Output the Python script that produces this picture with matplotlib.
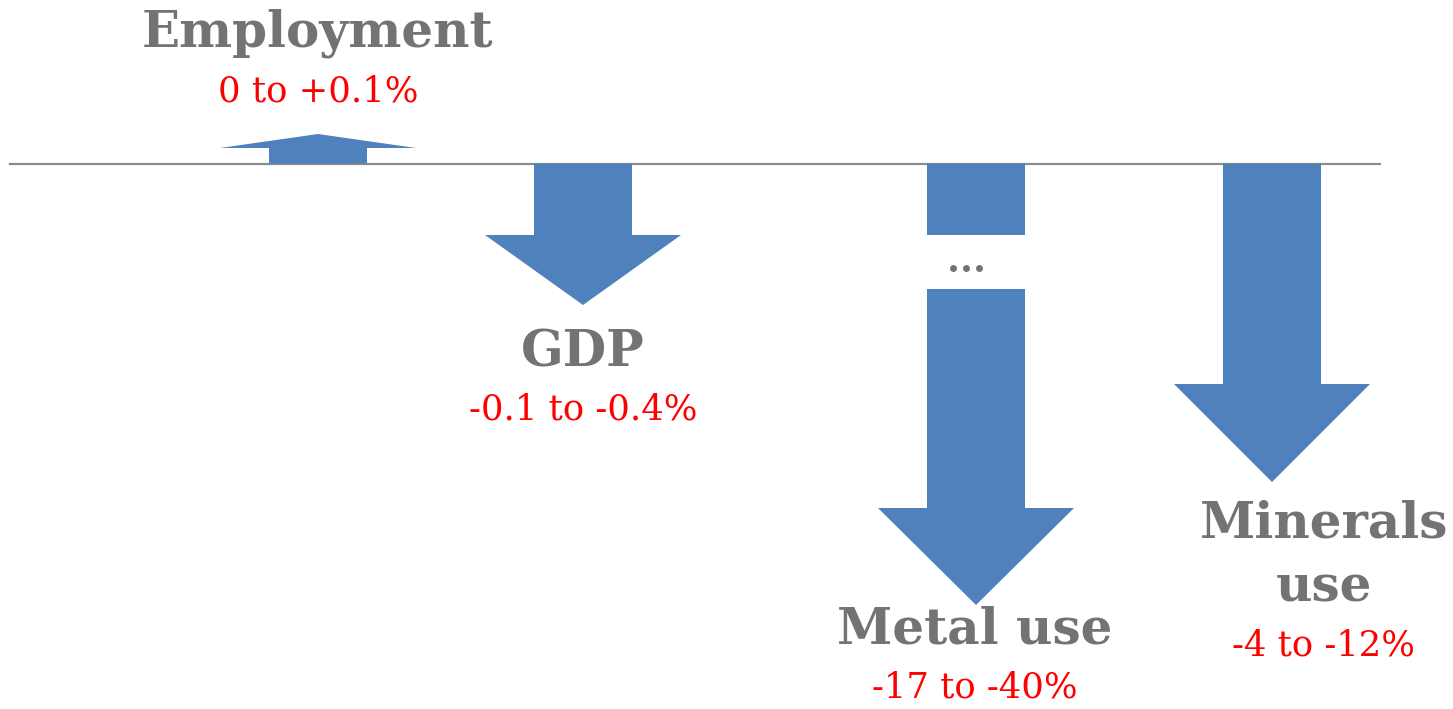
import matplotlib.pyplot as plt
from matplotlib.patches import Polygon, Rectangle

# scenario results: indicator, change range, direction of the change
indicators = ['Employment', 'GDP', 'Metal use', 'Minerals\nuse']
ranges = ['0 to +0.1%', '-0.1 to -0.4%', '-17 to -40%', '-4 to -12%']
directions = [1, -1, -1, -1]

# schematic layout (pixel units)
W, H = 1453, 709
base_y = 163.5
centers = [318, 583, 976, 1272]
text_x = [318, 583, 975, 1324]
head_y = [148, 235, 508, 384]
tip_y = [134, 305, 605, 482]
label_y = [33, 353, 630, 556]
range_y = [92, 410, 688, 646]
shaft_half = 49
head_half = 98

blue = '#4F81BD'
grey = '#737373'

fig = plt.figure(figsize=(W / 100, H / 100), dpi=100)
ax = fig.add_axes([0, 0, 1, 1])
ax.set_xlim(0, W)
ax.set_ylim(H, 0)
ax.axis('off')

ax.plot([10, 1380], [base_y, base_y], color='#8c8c8c', lw=1.6, zorder=1)

for i, (name, rng, d) in enumerate(zip(indicators, ranges, directions)):
    cx = centers[i]
    pts = [(cx - shaft_half, base_y), (cx - shaft_half, head_y[i]),
           (cx - head_half, head_y[i]), (cx, tip_y[i]),
           (cx + head_half, head_y[i]), (cx + shaft_half, head_y[i]),
           (cx + shaft_half, base_y)]
    ax.add_patch(Polygon(pts, closed=True, facecolor=blue, edgecolor='none', zorder=2))
    ax.text(text_x[i], label_y[i], name, ha='center', va='center',
            family='DejaVu Serif', fontweight='bold', fontsize=36, color=grey,
            linespacing=1.38)
    ax.text(text_x[i], range_y[i], rng, ha='center', va='center',
            family='DejaVu Serif', fontsize=25.5, color='red')

# broken shaft for the metal use arrow
cx = centers[2]
ax.add_patch(Rectangle((cx - shaft_half, 235), 2 * shaft_half, 288 - 235 + 0.5,
                       facecolor='white', edgecolor='none', zorder=3))
ax.plot([cx - 23, cx - 10, cx + 3], [268, 268, 268], 'o', ms=5,
        color=grey, mec='none', zorder=4)

fig.savefig('out.png', dpi=100, facecolor='white')
